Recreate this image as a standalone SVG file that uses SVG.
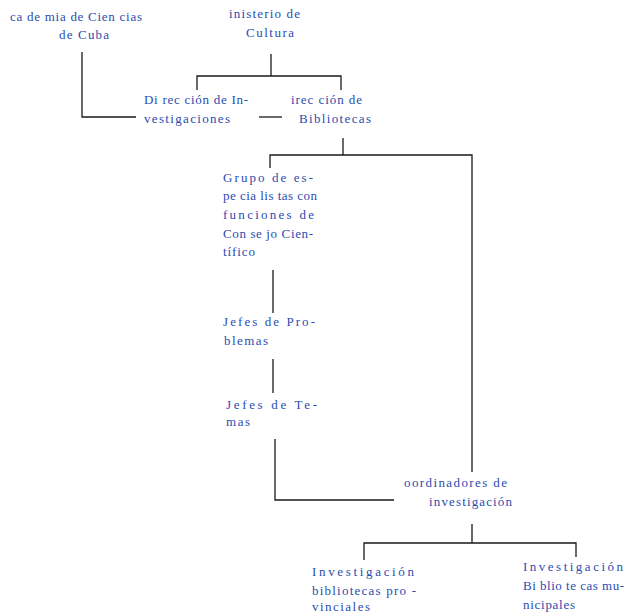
<svg xmlns="http://www.w3.org/2000/svg" width="625" height="614" viewBox="0 0 625 614">
<style>
text{font-family:"Liberation Serif","DejaVu Serif",serif;font-size:13px;fill:#2a4db0}
.c line,.c polyline{stroke:#1a1a1a;stroke-width:1.3;fill:none}
</style>
<rect width="625" height="614" fill="#fff"/>
<g class="c" id="connectors">
<polyline points="82,52 82,117 136,117"/>
<line x1="271" y1="54" x2="271" y2="76"/>
<polyline points="197,90 197,76 341,76 341,90"/>
<line x1="259" y1="117" x2="282" y2="117"/>
<line x1="343" y1="138" x2="343" y2="155"/>
<polyline points="270,168 270,155 472,155 472,472"/>
<line x1="273" y1="270" x2="273" y2="313"/>
<line x1="273" y1="359" x2="273" y2="393"/>
<polyline points="275,439 275,500 394,500"/>
<line x1="472" y1="524" x2="472" y2="543"/>
<polyline points="364,560 364,543 576,543 576,557"/>
</g>
<g id="academia">
<text x="10" y="21" textLength="132" lengthAdjust="spacing">ca de mia de Cien cias</text>
<text x="59" y="39" textLength="50" lengthAdjust="spacing">de Cuba</text>
</g>
<g id="ministerio">
<text x="229" y="18" textLength="71" lengthAdjust="spacing">inisterio de</text>
<text x="246" y="37" textLength="48" lengthAdjust="spacing">Cultura</text>
</g>
<g id="dir-investigaciones">
<text x="144" y="104" textLength="104" lengthAdjust="spacing">Di rec ción de In-</text>
<text x="144" y="123" textLength="86" lengthAdjust="spacing">vestigaciones</text>
</g>
<g id="dir-bibliotecas">
<text x="291" y="104" textLength="71" lengthAdjust="spacing">irec ción de</text>
<text x="299" y="123" textLength="72" lengthAdjust="spacing">Bibliotecas</text>
</g>
<g id="grupo">
<text x="223" y="182" textLength="90" lengthAdjust="spacing">Grupo de es-</text>
<text x="223" y="200" textLength="94" lengthAdjust="spacing">pe cia lis tas con</text>
<text x="223" y="219" textLength="91" lengthAdjust="spacing">funciones de</text>
<text x="223" y="238" textLength="90" lengthAdjust="spacing">Con se jo Cien-</text>
<text x="223" y="256" textLength="32" lengthAdjust="spacing">tífico</text>
</g>
<g id="jefes-problemas">
<text x="223" y="326" textLength="92" lengthAdjust="spacing">Jefes de Pro-</text>
<text x="224" y="345" textLength="44" lengthAdjust="spacing">blemas</text>
</g>
<g id="jefes-temas">
<text x="226" y="409" textLength="91" lengthAdjust="spacing">Jefes de Te-</text>
<text x="226" y="426" textLength="24" lengthAdjust="spacing">mas</text>
</g>
<g id="coordinadores">
<text x="404" y="487" textLength="103" lengthAdjust="spacing">oordinadores de</text>
<text x="429" y="506" textLength="83" lengthAdjust="spacing">investigación</text>
</g>
<g id="inv-provinciales">
<text x="312" y="576" textLength="102" lengthAdjust="spacing">Investigación</text>
<text x="312" y="595" textLength="104" lengthAdjust="spacing">bibliotecas pro -</text>
<text x="312" y="611" textLength="58" lengthAdjust="spacing">vinciales</text>
</g>
<g id="inv-municipales">
<text x="523" y="571" textLength="100" lengthAdjust="spacing">Investigación</text>
<text x="523" y="590" textLength="101" lengthAdjust="spacing">Bi blio te cas mu-</text>
<text x="523" y="609" textLength="52" lengthAdjust="spacing">nicipales</text>
</g>
</svg>
